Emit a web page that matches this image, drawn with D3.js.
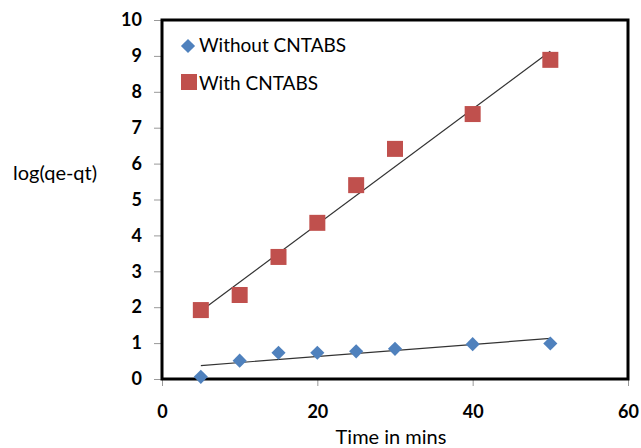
<!DOCTYPE html>
<html lang="en">
<head>
    <meta charset="UTF-8">
    <title>log(qe-qt) vs time</title>
    <style>
        body { margin: 0; background: white; }
        text { font-family: Lato, "Open Sans", sans-serif; }
    </style>
</head>
<body>
    <div class="fig"></div>
    <script src="https://d3js.org/d3.v7.min.js"></script>
    <script>
        // Data
        const times = [5, 10, 15, 20, 25, 30, 40, 50];
        const withoutValues = [0.06, 0.51, 0.73, 0.73, 0.77, 0.84, 0.97, 0.99];
        const withValues = [1.92, 2.34, 3.40, 4.35, 5.40, 6.41, 7.38, 8.89];
        const xTicks = [0, 20, 40, 60];
        const yTicks = [0, 1, 2, 3, 4, 5, 6, 7, 8, 9, 10];
        const seriesNames = ["Without CNTABS", "With CNTABS"];

        const width = 641, height = 448;
        const plot = { left: 162, right: 628, top: 20, bottom: 379 };

        const svg = d3.select(".fig").append("svg")
            .attr("width", width)
            .attr("height", height);

        const x = d3.scaleLinear().domain([0, 60]).range([plot.left, plot.right]);
        const y = d3.scaleLinear().domain([0, 10]).range([plot.bottom, plot.top]);

        // least squares trendline like Excel's linear trend
        function linearFit(xs, ys) {
            const mx = d3.mean(xs), my = d3.mean(ys);
            let num = 0, den = 0;
            xs.forEach((v, i) => { num += (v - mx) * (ys[i] - my); den += (v - mx) * (v - mx); });
            const slope = num / den;
            return t => my + slope * (t - mx);
        }

        // axes
        svg.append("g")
            .attr("transform", `translate(0,${plot.bottom})`)
            .call(d3.axisBottom(x).tickValues(xTicks).tickSize(7).tickPadding(19))
            .call(g => g.select(".domain").remove())
            .call(g => g.selectAll("line").attr("stroke", "#999"))
            .call(g => g.selectAll("text").attr("font-size", 18).attr("font-weight", "bold").attr("fill", "#000"));

        svg.append("g")
            .attr("transform", `translate(${plot.left},0)`)
            .call(d3.axisLeft(y).tickValues(yTicks).tickSize(8).tickPadding(12))
            .call(g => g.select(".domain").remove())
            .call(g => g.selectAll("line").attr("stroke", "#999"))
            .call(g => g.selectAll("text").attr("font-size", 18).attr("font-weight", "bold").attr("fill", "#000"));

        // plot frame
        svg.append("rect")
            .attr("x", plot.left)
            .attr("y", plot.top)
            .attr("width", plot.right - plot.left)
            .attr("height", plot.bottom - plot.top)
            .attr("fill", "none")
            .attr("stroke", "#000")
            .attr("stroke-width", 3);

        // trendlines
        [withoutValues, withValues].forEach(vals => {
            const f = linearFit(times, vals);
            const t0 = d3.min(times), t1 = d3.max(times);
            svg.append("line")
                .attr("x1", x(t0)).attr("y1", y(f(t0)))
                .attr("x2", x(t1)).attr("y2", y(f(t1)))
                .attr("stroke", "#333")
                .attr("stroke-width", 1.2);
        });

        const diamond = d3.symbol().type(d3.symbolSquare).size(100);

        // Without CNTABS - blue diamonds
        svg.append("g").selectAll("path")
            .data(times.map((t, i) => [t, withoutValues[i]]))
            .enter()
            .append("path")
            .attr("d", diamond)
            .attr("transform", d => `translate(${x(d[0])},${y(d[1])}) rotate(45)`)
            .attr("fill", "#4F81BD");

        // With CNTABS - red squares
        const sq = 16;
        svg.append("g").selectAll("rect")
            .data(times.map((t, i) => [t, withValues[i]]))
            .enter()
            .append("rect")
            .attr("x", d => x(d[0]) - sq / 2)
            .attr("y", d => y(d[1]) - sq / 2)
            .attr("width", sq)
            .attr("height", sq)
            .attr("fill", "#C0504D");

        // legend
        const legend = svg.append("g");
        legend.append("path")
            .attr("d", d3.symbol().type(d3.symbolSquare).size(100))
            .attr("transform", "translate(188,46) rotate(45)")
            .attr("fill", "#4F81BD");
        legend.append("rect")
            .attr("x", 181).attr("y", 74)
            .attr("width", 16).attr("height", 16)
            .attr("fill", "#C0504D");
        legend.selectAll("text")
            .data(seriesNames)
            .enter()
            .append("text")
            .attr("x", 199)
            .attr("y", (d, i) => 45 + i * 38)
            .attr("dy", "0.36em")
            .attr("font-size", 19)
            .text(d => d);

        // axis titles
        svg.append("text")
            .attr("x", 13)
            .attr("y", 173)
            .attr("dy", "0.36em")
            .attr("font-size", 20)
            .text("log(qe-qt)");

        svg.append("text")
            .attr("x", 391)
            .attr("y", 437)
            .attr("dy", "0.36em")
            .attr("text-anchor", "middle")
            .attr("font-size", 20)
            .text("Time in mins");
    </script>
</body>
</html>
